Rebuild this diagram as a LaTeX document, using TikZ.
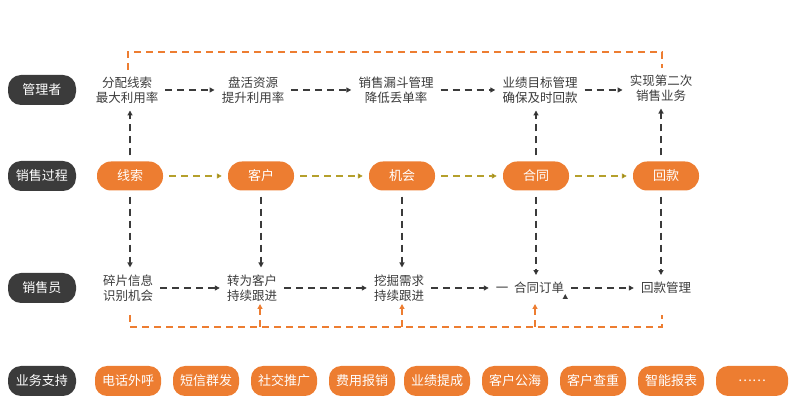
\documentclass[tikz,border=0pt]{standalone}
\usepackage{fontspec}
\setmainfont{Noto Sans CJK SC}
\usetikzlibrary{arrows.meta}
\definecolor{orng}{HTML}{ED7D31}
\definecolor{dark}{HTML}{3B3B3B}
\definecolor{olive}{HTML}{B5A02C}
\begin{document}
\begin{tikzpicture}[x=1pt,y=-1pt,font=\fontsize{12.5}{15}\selectfont,
  role/.style={fill=dark,text=white,rounded corners=13pt,minimum width=68pt,minimum height=30pt,font=\fontsize{13}{15}\selectfont},
  pill/.style={fill=orng,text=white,rounded corners=14pt,minimum width=66pt,minimum height=29pt,font=\fontsize{13}{15}\selectfont},
  tool/.style={fill=orng,text=white,rounded corners=12pt,minimum width=66pt,minimum height=30pt,inner sep=1pt,font=\fontsize{13}{15}\selectfont},
  txt/.style={align=center,text=dark,inner sep=1pt},
  dsh/.style={dash pattern=on 7pt off 5pt,line width=1.2pt,shorten >=6pt,shorten <=6pt},
  tip/.style={-{Triangle[length=5pt,width=5pt]}}]
\useasboundingbox (0,0) rectangle (804,411);
% left column
\node[role] (mgr) at (42,90)  {管理者};
\node[role] (prc) at (42,176) {销售过程};
\node[role] (rep) at (42,288) {销售员};
\node[role] (sup) at (42,381) {业务支持};
% manager row
\node[txt] (m1) at (127,90) {分配线索\\最大利用率};
\node[txt] (m2) at (253,90) {盘活资源\\提升利用率};
\node[txt] (m3) at (396,90) {销售漏斗管理\\降低丢单率};
\node[txt] (m4) at (540,90) {业绩目标管理\\确保及时回款};
\node[txt] (m5) at (661,88) {实现第二次\\销售业务};
% process row
\node[pill] (p1) at (130,176) {线索};
\node[pill] (p2) at (261,176) {客户};
\node[pill] (p3) at (402,176) {机会};
\node[pill] (p4) at (536,176) {合同};
\node[pill] (p5) at (666,176) {回款};
% sales rep row
\node[txt] (s1) at (128,288) {碎片信息\\识别机会};
\node[txt] (s2) at (252,288) {转为客户\\持续跟进};
\node[txt] (s3) at (399,288) {挖掘需求\\持续跟进};
\node[txt] (s4) at (530,288) {一\ \ 合同订单};
\node[txt] (s5) at (666,288) {回款管理};
% support row
\foreach \t [count=\i] in {电话外呼,短信群发,社交推广,费用报销,业绩提成,客户公海,客户查重,智能报表}
  \node[tool] (t\i) at ({128+78*(\i-1)-(\i>4)*3},381) {\t};
\node[tool,minimum width=72pt] (t9) at (752,381) {……};
% arrows
\path[dsh,tip,draw=dark]
(m1.east) edge (m2.west) (m2.east) edge (m3.west) (m3.east) edge (m4.west) (m4.east) edge (m5.west |- m4.east)
(p1.north) edge (p1.north |- m1.south) (p4.north) edge (p4.north |- m4.south) (p5.north -| m5) edge (m5.south)
(p1.south) edge (p1.south |- s1.north) (p2.south) edge (p2.south |- s2.north) (p3.south) edge (p3.south |- s3.north)
(p4.south) edge (p4.south |- s4.north) (p5.south -| m5) edge (s5.north -| m5)
(s1.east) edge (s2.west) (s2.east) edge (s3.west) (s3.east) edge (s4.west |- s3.east) (s4.east |- s3.east) edge (s5.west |- s3.east);
\path[dsh,tip,draw=olive]
(p1) edge (p2) (p2) edge (p3) (p3) edge (p4) (p4) edge (p5);
% feedback loops
\coordinate (tl) at (128,52);
\coordinate (tr) at (662,52);
\draw[dsh,shorten >=0pt,shorten <=0pt,draw=orng] (128,70) -- (tl) -- (tr) -- (662,68);
\coordinate (bl) at (130,327);
\coordinate (br) at (662,327);
\draw[dsh,shorten >=0pt,shorten <=0pt,draw=orng] (130,315) -- (bl) -- (br) -- (662,315);
\foreach \x in {260,402,535}
  \draw[dsh,tip,shorten >=0pt,shorten <=0pt,draw=orng] (\x,327) -- (\x,304);
\end{tikzpicture}
\end{document}
